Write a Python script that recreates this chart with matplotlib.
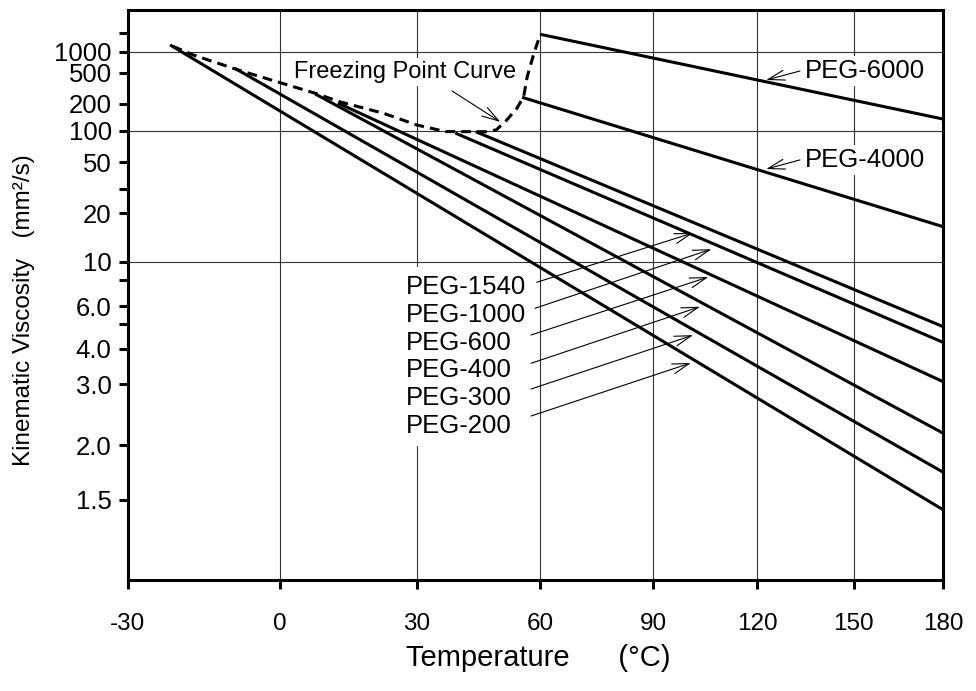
"""
PEG kinematic viscosity vs temperature on a Walther-type chart
(log-log viscosity against log absolute temperature).
"""
import numpy as np
import matplotlib
matplotlib.use("Agg")
import matplotlib.pyplot as plt

plt.rcParams["font.family"] = ["Liberation Sans", "DejaVu Sans"]

# --------------------------------------------------------------------------- #
#  Data: straight lines from start point to 180 C
# --------------------------------------------------------------------------- #
PEG_NAMES = ["PEG-200", "PEG-300", "PEG-400", "PEG-600",
             "PEG-1000", "PEG-1540", "PEG-4000", "PEG-6000"]
T_START = [-22.0, -9.3, 7.4, 12.3, 39.1, 44.0, 55.4, 60.0]
V_START = [1290, 575, 262, 203, 94.6, 97.7, 238, 1930]
T_END = [180, 180, 180, 180, 180, 180, 180, 180]
V_END = [1.43, 1.72, 2.15, 3.06, 4.23, 4.89, 16.2, 133]

# freezing point curve (dashed)
FP_T = [-21.5, -17.5, -8.6, 0.0, 7.4, 12.7, 22.5, 30.0, 36.8, 46.4,
        49.0, 51.6, 54.1, 55.8, 56.7, 58.4, 60.0]
FP_V = [1230, 900, 543, 365, 267, 210, 154, 115, 98, 97.7,
        102, 130, 176, 242, 440, 956, 1930]

# arrow tips (temperature, viscosity) for the line labels
LOW_LABELS = ["PEG-1540", "PEG-1000", "PEG-600", "PEG-400", "PEG-300", "PEG-200"]
LOW_TIP_T = [101.2, 106.5, 105.6, 103.2, 101.2, 100.6]
LOW_TIP_V = [14.8, 11.8, 8.3, 5.97, 4.52, 3.55]
HIGH_LABELS = ["PEG-6000", "PEG-4000"]
HIGH_TIP_T = [122.7, 122.7]
HIGH_TIP_V = [396, 43.6]
FP_TIP = (50.0, 124)

X_TICKS = [-30, 0, 30, 60, 90, 120, 150, 180]
X_TICKLABELS = ["-30", "0", "30", "60", "90", "120", "150", "180"]
Y_TICKS = [2000, 1000, 500, 200, 100, 50, 30, 20, 10, 8, 6, 5, 4, 3, 2, 1.5]
Y_TICKLABELS = ["", "1000", "500", "200", "100", "50", "", "20", "10",
                "", "6.0", "", "4.0", "3.0", "2.0", "1.5"]
Y_GRID = [1000, 100, 10]
X_GRID = [0, 30, 60, 90, 120, 150]


# --------------------------------------------------------------------------- #
#  Walther scales
# --------------------------------------------------------------------------- #
def visc_fwd(v):
    v = np.asarray(v, float)
    with np.errstate(invalid="ignore", divide="ignore"):
        return np.log10(np.log10(np.clip(v, 0.51, None) + 0.5))


def visc_inv(y):
    return 10 ** (10 ** np.asarray(y, float)) - 0.5


def temp_fwd(t):
    t = np.asarray(t, float)
    return np.log10(np.clip(t + 273.15, 1.0, None))


def temp_inv(x):
    return 10 ** np.asarray(x, float) - 273.15


fig = plt.figure(figsize=(9.76, 6.91), dpi=100)
ax = fig.add_axes([127.7 / 976, 111 / 691, 815.6 / 976, 570 / 691])
ax.set_xscale("function", functions=(temp_fwd, temp_inv))
ax.set_yscale("function", functions=(visc_fwd, visc_inv))
ax.set_xlim(-30, 180)
ax.set_ylim(1.082, 5278)

# grid
for t in X_GRID:
    ax.axvline(t, color="0.2", lw=0.8, zorder=0.5)
for v in Y_GRID:
    ax.axhline(v, color="0.2", lw=0.8, zorder=0.5)

# lines
for t0, v0, t1, v1 in zip(T_START, V_START, T_END, V_END):
    ax.plot([t0, t1], [v0, v1], color="black", lw=2.2,
            solid_capstyle="butt", zorder=2)
ax.plot(FP_T, FP_V, color="black", lw=2.2, dashes=(3.2, 2.0), zorder=2)

# ticks / spines
ax.set_xticks(X_TICKS)
ax.set_xticklabels(X_TICKLABELS)
ax.set_yticks(Y_TICKS)
ax.set_yticklabels(Y_TICKLABELS)
ax.minorticks_off()
ax.tick_params(axis="both", direction="out", length=6.5, width=2.2)
ax.tick_params(axis="x", pad=17, labelsize=17.5)
ax.tick_params(axis="y", pad=5, labelsize=18.5)
for s in ax.spines.values():
    s.set_linewidth(2.2)

ax.set_xlabel("Temperature      (\u00b0C)", fontsize=21, va="center")
ax.xaxis.set_label_coords(0.503, -0.137)
ax.set_ylabel("Kinematic Viscosity   (mm\u00b2/s)", fontsize=17.5, va="center")
ax.yaxis.set_label_coords(-0.127, 0.474)

white = dict(facecolor="white", edgecolor="none", pad=2)
arrow = dict(arrowstyle="->,head_length=0.6,head_width=0.18", mutation_scale=20,
             lw=0.8, color="black", shrinkA=0, shrinkB=0)

# freezing point label
ax.text(0.340, 0.891, "Freezing Point Curve", transform=ax.transAxes,
        fontsize=17, ha="center", va="center", bbox=white, zorder=1)
ax.annotate("", xy=FP_TIP, xycoords="data", xytext=(0.3976, 0.858),
            textcoords="axes fraction", arrowprops=arrow, zorder=3)

# PEG-6000 / PEG-4000 labels
for name, t, v, fy in zip(HIGH_LABELS, HIGH_TIP_T, HIGH_TIP_V, [0.893, 0.737]):
    ax.text(0.8308, fy, name, transform=ax.transAxes, fontsize=18.5,
            ha="left", va="center", bbox=white, zorder=1)
    ax.annotate("", xy=(t, v), xycoords="data", xytext=(0.8243, fy),
                textcoords="axes fraction", arrowprops=arrow, zorder=3)

# low molecular weight labels
ax.text(0.3409, 0.392, "\n".join(LOW_LABELS), transform=ax.transAxes,
        fontsize=18.5, ha="left", va="center", linespacing=1.2,
        bbox=dict(facecolor="white", edgecolor="none", pad=6), zorder=1)
tails_x = [0.5015, 0.4994, 0.4945, 0.4945, 0.4945, 0.4945]
tails_y = [0.5223, 0.4767, 0.4298, 0.3802, 0.3351, 0.2877]
for t, v, tx, ty in zip(LOW_TIP_T, LOW_TIP_V, tails_x, tails_y):
    ax.annotate("", xy=(t, v), xycoords="data", xytext=(tx, ty),
                textcoords="axes fraction", arrowprops=arrow, zorder=3)

fig.savefig("out.png", dpi=100)
